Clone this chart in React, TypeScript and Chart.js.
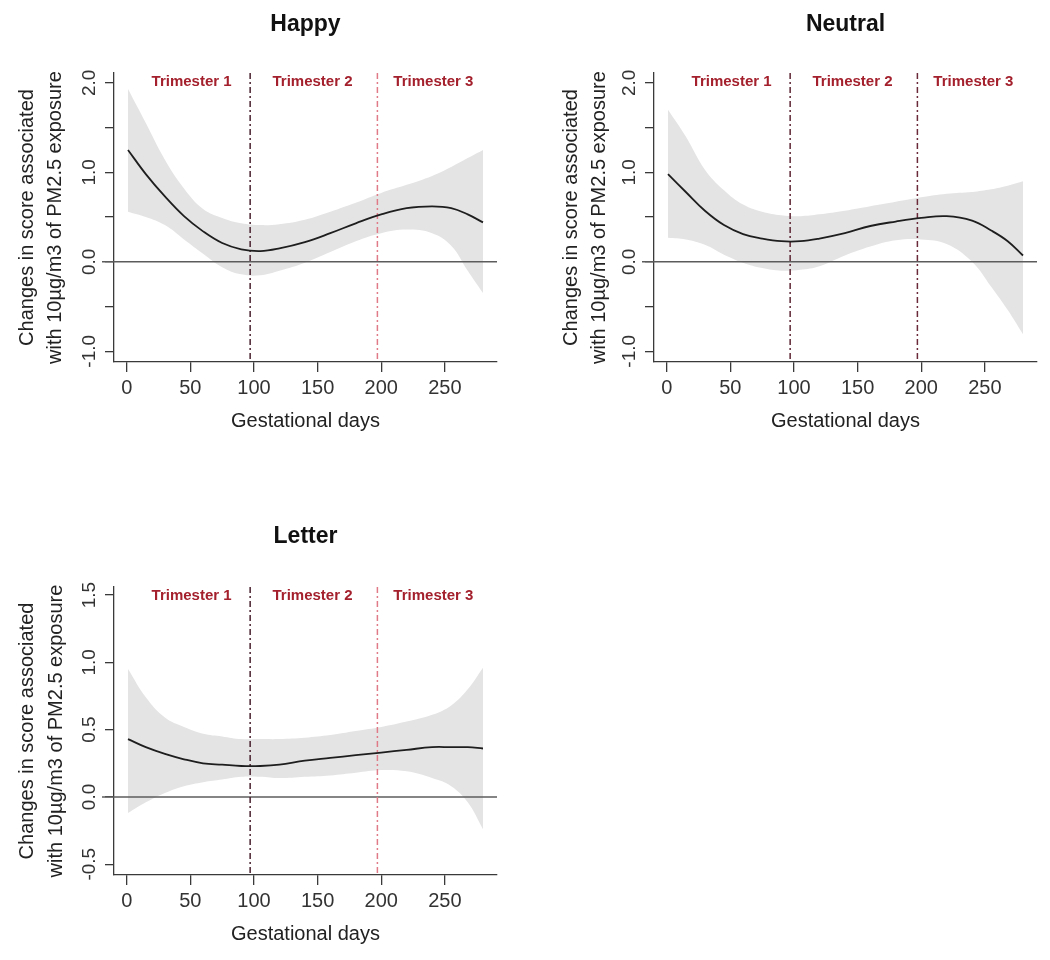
import React, { useEffect, useRef } from "react";
import { Chart, registerables } from "chart.js";

Chart.register(...registerables);

// ---------- data ----------
const days = [1, 15, 30, 45, 60, 75, 90, 105, 120, 140, 160, 180, 200, 220, 240, 255, 268, 280];

const happyEstimate = [1.25, 0.98, 0.73, 0.51, 0.34, 0.21, 0.14, 0.12, 0.15, 0.22, 0.32, 0.43, 0.53, 0.6, 0.62, 0.6, 0.53, 0.44];
const happyUpper = [1.93, 1.55, 1.14, 0.82, 0.59, 0.49, 0.43, 0.41, 0.42, 0.47, 0.56, 0.66, 0.77, 0.86, 0.96, 1.06, 1.16, 1.25];
const happyLower = [0.56, 0.5, 0.41, 0.25, 0.09, -0.06, -0.14, -0.15, -0.1, -0.01, 0.11, 0.23, 0.32, 0.36, 0.32, 0.18, -0.1, -0.35];

const neutralEstimate = [0.98, 0.78, 0.57, 0.41, 0.31, 0.26, 0.23, 0.23, 0.26, 0.32, 0.4, 0.45, 0.49, 0.51, 0.46, 0.35, 0.23, 0.07];
const neutralUpper = [1.7, 1.4, 1.03, 0.8, 0.64, 0.56, 0.52, 0.51, 0.53, 0.57, 0.62, 0.67, 0.72, 0.76, 0.78, 0.81, 0.85, 0.9];
const neutralLower = [0.27, 0.25, 0.19, 0.08, -0.01, -0.07, -0.1, -0.09, -0.05, 0.07, 0.17, 0.24, 0.25, 0.2, 0.0, -0.28, -0.54, -0.81];

const letterEstimate = [0.43, 0.37, 0.32, 0.28, 0.25, 0.24, 0.23, 0.23, 0.24, 0.27, 0.29, 0.31, 0.33, 0.35, 0.37, 0.37, 0.37, 0.36];
const letterUpper = [0.95, 0.74, 0.59, 0.52, 0.47, 0.45, 0.43, 0.43, 0.43, 0.44, 0.46, 0.49, 0.52, 0.56, 0.61, 0.68, 0.8, 0.96];
const letterLower = [-0.12, -0.04, 0.03, 0.08, 0.11, 0.13, 0.15, 0.15, 0.14, 0.15, 0.16, 0.18, 0.2, 0.19, 0.14, 0.08, -0.04, -0.24];

const xTicks = [0, 50, 100, 150, 200, 250];
const yTicksWide = [-1, -0.5, 0, 0.5, 1, 1.5, 2];
const yLabelsWide = ["-1.0", "", "0.0", "", "1.0", "", "2.0"];
const yTicksLetter = [-0.5, 0, 0.5, 1, 1.5];
const yLabelsLetter = ["-0.5", "0.0", "0.5", "1.0", "1.5"];

const trimesterBounds = [97, 197];
const trimesterNames = ["Trimester 1", "Trimester 2", "Trimester 3"];
const trimesterLabelDays = [51, 146, 241];

const panelTitles = ["Happy", "Neutral", "Letter"];
const xTitle = "Gestational days";
const yTitleLines = ["Changes in score associated", "with 10\u00b5g/m3 of PM2.5 exposure"];

// ---------- style / layout ----------
const FONT = "Arial, 'Liberation Sans', Helvetica, sans-serif";
const AXIS = "#3a3a3a";
const BAND = "#e4e4e4";
const TRI_TEXT = "#a3202c";

type PanelCfg = {
  title: string;
  est: number[];
  up: number[];
  lo: number[];
  yTicks: number[];
  yLabels: string[];
  yMin: number;
  yMax: number;
  left: number;
  top: number;
  w: number;
  h: number;
  areaLeft: number;
  areaTop: number;
  padRight: number;
  xAxisH: number;
  titleY: number;
  yTitleOff: number[];
  boundColors: string[];
};

const panels: PanelCfg[] = [
  {
    title: panelTitles[0], est: happyEstimate, up: happyUpper, lo: happyLower,
    yTicks: yTicksWide, yLabels: yLabelsWide, yMin: -1.12, yMax: 2.11,
    left: 0, top: 0, w: 520, h: 450, areaLeft: 114, areaTop: 73, padRight: 23, xAxisH: 88,
    titleY: 25, yTitleOff: [-87, -59], boundColors: ["#4a2230", "#e07a88"],
  },
  {
    title: panelTitles[1], est: neutralEstimate, up: neutralUpper, lo: neutralLower,
    yTicks: yTicksWide, yLabels: yLabelsWide, yMin: -1.12, yMax: 2.11,
    left: 540, top: 0, w: 510, h: 450, areaLeft: 114, areaTop: 73, padRight: 13, xAxisH: 88,
    titleY: 25, yTitleOff: [-83, -55], boundColors: ["#5e2534", "#6a2a3a"],
  },
  {
    title: panelTitles[2], est: letterEstimate, up: letterUpper, lo: letterLower,
    yTicks: yTicksLetter, yLabels: yLabelsLetter, yMin: -0.58, yMax: 1.56,
    left: 0, top: 510, w: 520, h: 450, areaLeft: 114, areaTop: 77, padRight: 23, xAxisH: 85,
    titleY: 27, yTitleOff: [-87, -58], boundColors: ["#4a2230", "#e07a88"],
  },
];

const X_MIN = -10;
const X_MAX = 291;

function pts(xs: number[], ys: number[]) {
  return xs.map((x, i) => ({ x, y: ys[i] }));
}

function Panel({ cfg }: { cfg: PanelCfg }) {
  const ref = useRef<HTMLCanvasElement>(null);

  useEffect(() => {
    if (!ref.current) return;

    const decor = {
      id: "decor",
      afterDatasetDraw(chart: any, args: any) {
        if (args.index !== 1) return;
        const { ctx, chartArea: a, scales } = chart;
        const xs = scales.x;
        const ys = scales.y;
        ctx.save();
        // zero reference line
        const y0 = ys.getPixelForValue(0);
        ctx.strokeStyle = "#5c5c5c";
        ctx.lineWidth = 1.6;
        ctx.beginPath();
        ctx.moveTo(a.left - 12, y0);
        ctx.lineTo(a.right, y0);
        ctx.stroke();
        // trimester boundaries
        ctx.lineWidth = 1.5;
        ctx.setLineDash([6, 3, 2, 3]);
        trimesterBounds.forEach((d, i) => {
          const px = xs.getPixelForValue(d);
          ctx.strokeStyle = cfg.boundColors[i];
          ctx.beginPath();
          ctx.moveTo(px, a.top);
          ctx.lineTo(px, a.bottom);
          ctx.stroke();
        });
        ctx.restore();
      },
      afterDraw(chart: any) {
        const { ctx, chartArea: a, scales } = chart;
        const xs = scales.x;
        const ys = scales.y;
        const cx = (a.left + a.right) / 2;
        const cy = (a.top + a.bottom) / 2;
        ctx.save();
        // panel title
        ctx.fillStyle = "#111";
        ctx.font = `bold 23px ${FONT}`;
        ctx.textAlign = "center";
        ctx.textBaseline = "middle";
        ctx.fillText(cfg.title, cx, cfg.titleY);
        // trimester labels
        ctx.fillStyle = TRI_TEXT;
        ctx.font = `bold 15px ${FONT}`;
        trimesterNames.forEach((t, i) => {
          ctx.fillText(t, xs.getPixelForValue(trimesterLabelDays[i]), a.top + 9);
        });
        // x axis title
        ctx.fillStyle = "#222";
        ctx.font = `20px ${FONT}`;
        ctx.fillText(xTitle, cx, a.bottom + 59);
        // y tick labels (rotated, R style)
        ctx.font = `19px ${FONT}`;
        ctx.fillStyle = "#333";
        ys.ticks.forEach((t: any) => {
          const idx = cfg.yTicks.indexOf(t.value);
          const label = idx >= 0 ? cfg.yLabels[idx] : "";
          if (!label) return;
          ctx.save();
          ctx.translate(a.left - 24, ys.getPixelForValue(t.value));
          ctx.rotate(-Math.PI / 2);
          ctx.fillText(label, 0, 0);
          ctx.restore();
        });
        // y axis title (two lines)
        ctx.fillStyle = "#222";
        ctx.font = `20px ${FONT}`;
        yTitleLines.forEach((line, i) => {
          ctx.save();
          ctx.translate(a.left + cfg.yTitleOff[i], cy);
          ctx.rotate(-Math.PI / 2);
          ctx.fillText(line, 0, 0);
          ctx.restore();
        });
        ctx.restore();
      },
    };

    const chart = new Chart(ref.current, {
      type: "line",
      data: {
        datasets: [
          {
            data: pts(days, cfg.est),
            borderColor: "#1e1e1e",
            borderWidth: 1.8,
            pointRadius: 0,
            fill: false,
            tension: 0.4,
          },
          {
            data: pts(days, cfg.up),
            borderColor: "rgba(0,0,0,0)",
            borderWidth: 0,
            backgroundColor: BAND,
            pointRadius: 0,
            fill: "+1",
            tension: 0.4,
          },
          {
            data: pts(days, cfg.lo),
            borderColor: "rgba(0,0,0,0)",
            borderWidth: 0,
            pointRadius: 0,
            fill: false,
            tension: 0.4,
          },
        ],
      } as any,
      options: {
        responsive: false,
        animation: false,
        events: [],
        layout: { padding: { left: 0, right: cfg.padRight, top: cfg.areaTop, bottom: 0 } },
        plugins: {
          legend: { display: false },
          tooltip: { enabled: false },
          title: { display: false },
        },
        scales: {
          x: {
            type: "linear",
            min: X_MIN,
            max: X_MAX,
            afterBuildTicks: (s: any) => {
              s.ticks = xTicks.map((v) => ({ value: v }));
            },
            afterFit: (s: any) => {
              s.height = cfg.xAxisH;
            },
            grid: { drawOnChartArea: false, drawTicks: true, tickLength: 10, color: AXIS, lineWidth: 1.3 },
            border: { display: true, color: AXIS, width: 1.3 },
            ticks: {
              font: { family: FONT, size: 20 },
              color: "#333",
              padding: 4,
              maxRotation: 0,
              minRotation: 0,
              autoSkip: false,
              callback: (v: any) => String(v),
            },
          },
          y: {
            type: "linear",
            min: cfg.yMin,
            max: cfg.yMax,
            afterBuildTicks: (s: any) => {
              s.ticks = cfg.yTicks.map((v) => ({ value: v }));
            },
            afterFit: (s: any) => {
              s.width = cfg.areaLeft;
            },
            grid: { drawOnChartArea: false, drawTicks: true, tickLength: 9, color: AXIS, lineWidth: 1.3 },
            border: { display: true, color: AXIS, width: 1.3 },
            ticks: { display: false },
          },
        },
      } as any,
      plugins: [decor],
    });

    return () => chart.destroy();
  }, [cfg]);

  return (
    <canvas
      ref={ref}
      width={cfg.w}
      height={cfg.h}
      style={{ position: "absolute", left: cfg.left, top: cfg.top, width: cfg.w, height: cfg.h }}
    />
  );
}

export default function App() {
  return (
    <div
      style={{
        position: "absolute",
        left: 0,
        top: 0,
        width: 1050,
        height: 960,
        background: "#ffffff",
        overflow: "hidden",
      }}
    >
      {panels.map((p) => (
        <Panel key={p.title} cfg={p} />
      ))}
    </div>
  );
}
